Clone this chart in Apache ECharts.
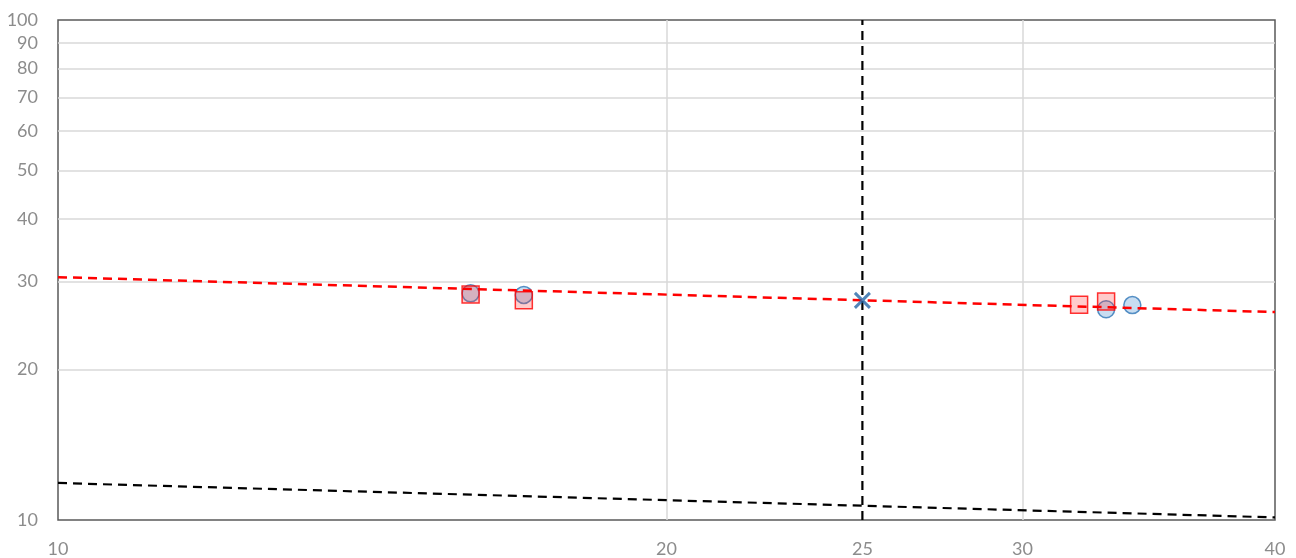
<!DOCTYPE html>
<html>
<head>
<meta charset="utf-8">
<script src="https://cdn.jsdelivr.net/npm/echarts@6/dist/echarts.min.js"></script>
<style>
html,body{margin:0;padding:0;background:#fff;}
#chart{width:1296px;height:558px;}
</style>
</head>
<body>
<div id="chart"></div>
<script>
// Data
const xTicks = [10, 20, 25, 30, 40];
const yTicks = [10, 20, 30, 40, 50, 60, 70, 80, 90, 100];
const xGrid = [20, 30];
const yGrid = [20, 30, 40, 50, 60, 70, 80, 90];
const circlePoints = [[16, 28.4], [17, 28.2], [33, 26.4], [34, 26.9]];
const squarePoints = [[16, 28.25], [17, 27.5], [32, 26.95], [33, 27.35]];
const redTrend = [[10, 30.6], [40, 26.05]];
const blackTrend = [[10, 11.86], [40, 10.12]];
const verticalLine = [[25, 10], [25, 100]];
const crossPoint = [[25, 27.5]];

const chart = echarts.init(document.getElementById('chart'), null, {renderer: 'canvas'});
const labelFont = {color: '#8c8c8c', fontSize: 18, fontFamily: 'Lato, "Open Sans", sans-serif'};

const option = {
  animation: false,
  backgroundColor: '#ffffff',
  grid: {left: 58, right: 21, top: 20, bottom: 38, show: true, borderColor: '#595959', borderWidth: 1.5, backgroundColor: 'transparent'},
  xAxis: {
    type: 'log', logBase: 10, min: 10, max: 40,
    axisLine: {show: false},
    axisTick: {show: false},
    splitLine: {show: false},
    axisLabel: Object.assign({customValues: xTicks, margin: 20, formatter: v => String(Math.round(v))}, labelFont)
  },
  yAxis: {
    type: 'log', logBase: 10, min: 10, max: 100,
    axisLine: {show: false},
    axisTick: {show: false},
    splitLine: {show: false},
    axisLabel: Object.assign({customValues: yTicks, margin: 20, formatter: v => String(Math.round(v))}, labelFont)
  },
  series: [
    {
      type: 'line', data: [], silent: true, z: 1,
      markLine: {
        silent: true, symbol: 'none', animation: false, z: 1,
        label: {show: false},
        lineStyle: {color: '#d9d9d9', width: 1.5, type: 'solid'},
        data: xGrid.map(v => ({xAxis: v})).concat(yGrid.map(v => ({yAxis: v})))
      }
    },
    {
      type: 'scatter', data: circlePoints, symbol: 'circle', symbolSize: 17, z: 3,
      itemStyle: {color: 'rgba(91,155,213,0.42)', borderColor: '#2E75B6', borderWidth: 1.5}
    },
    {
      type: 'scatter', data: squarePoints, symbol: 'rect', symbolSize: 17, z: 3,
      itemStyle: {color: 'rgba(255,40,40,0.3)', borderColor: '#FF0000', borderWidth: 1.5}
    },
    {
      type: 'line', data: verticalLine, symbol: 'none', z: 4,
      lineStyle: {color: '#000000', width: 2.2, type: [9, 6]}
    },
    {
      type: 'line', data: blackTrend, symbol: 'none', z: 4,
      lineStyle: {color: '#000000', width: 2.2, type: [9, 6]}
    },
    {
      type: 'line', data: redTrend, symbol: 'none', z: 4,
      lineStyle: {color: '#FF0000', width: 2.5, type: [9, 6]}
    },
    {
      type: 'scatter', data: crossPoint, symbol: 'path://M0,0L10,10M10,0L0,10', symbolSize: 15, z: 5,
      itemStyle: {color: 'rgba(0,0,0,0)', borderColor: '#2566A8', borderWidth: 3}
    }
  ]
};
chart.setOption(option);
</script>
</body>
</html>
